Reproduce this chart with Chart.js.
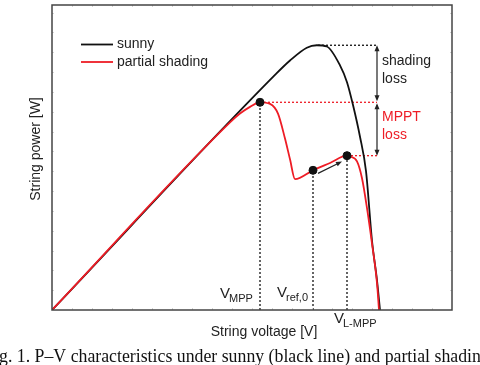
<!DOCTYPE html>
<html>
<head>
<meta charset="utf-8">
<script src="https://cdn.jsdelivr.net/npm/chart.js@4.4.1/dist/chart.umd.min.js"></script>
<style>
    html, body { margin: 0; padding: 0; background: #fff; }
    #wrap { width: 480px; height: 365px; overflow: hidden; }
</style>
</head>
<body>
<div id="wrap"><canvas id="pvChart" width="480" height="365"></canvas></div>
<script>
// P-V curves, string voltage (x) vs string power (y), both in 0..100 relative units
const sunnyV = [0, 56, 59.5, 63.7, 66.2, 68.7, 72, 73.75, 75.25, 77, 78.5, 80, 81.25, 82];
const sunnyP = [0, 77.4, 81.8, 86.0, 86.8, 86.4, 80.2, 74.7, 67.2, 56.8, 45.5, 22.7, 9.7, 0];

const shadeV = [0, 44.5, 47, 49.5, 52, 54.5, 56.5, 58.25, 59.5, 60.75, 65.25, 69.5, 73.75, 74.5, 76.25, 77.5, 78.75, 80, 81.25, 81.75];
const shadeP = [0, 61.5, 64.4, 66.6, 68.1, 67.6, 64.4, 56.2, 49.4, 42.9, 45.8, 48.2, 50.6, 50.3, 48.7, 43.2, 33.4, 21.8, 8.8, 0];

// operating points: global MPP, start reference, local MPP
const markerV = [52, 65.25, 73.75];
const markerP = [68.1, 45.8, 50.6];

// sunny peak and where the loss arrows stand
const peakV = 66.5;
const peakP = 86.8;
const lossV = 81.25;

// little arrow from V_ref,0 towards the local MPP
const stepV = [66.5, 72.5];
const stepP = [44.8, 48.7];

const SANS = "'Liberation Sans', Arial, sans-serif";
const RED = "#ee1c25";
const BLACK = "#111111";

const pts = (xs, ys) => xs.map((x, i) => ({ x: x, y: ys[i] }));

const guide = (a, b, color) => ({
    type: "line",
    data: [a, b],
    borderColor: color,
    borderWidth: 1.3,
    borderDash: [2, 2],
    pointRadius: 0,
    fill: false,
    order: 4,
});

const drawSub = (ctx, x, y, main, sub, color) => {
    ctx.fillStyle = color;
    ctx.textAlign = "left";
    ctx.textBaseline = "alphabetic";
    ctx.font = "15px " + SANS;
    ctx.fillText(main, x, y);
    const w = ctx.measureText(main).width;
    ctx.font = "11px " + SANS;
    ctx.fillText(sub, x + w - 1, y + 4);
};

const arrowHead = (ctx, x, y, dx, dy) => {
    const len = Math.hypot(dx, dy);
    const ux = dx / len, uy = dy / len;
    const l = 6, w = 2.5;
    ctx.beginPath();
    ctx.moveTo(x, y);
    ctx.lineTo(x - ux * l - uy * w, y - uy * l + ux * w);
    ctx.lineTo(x - ux * l + uy * w, y - uy * l - ux * w);
    ctx.closePath();
    ctx.fill();
};

const decor = {
    id: "decor",
    afterDraw(chart) {
        const ctx = chart.ctx;
        const xs = chart.scales.x;
        const ys = chart.scales.y;
        const area = chart.chartArea;
        ctx.save();

        // faint inner ticks on the frame
        ctx.strokeStyle = "#d4d4d4";
        ctx.lineWidth = 1;
        for (let v = 5; v < 100; v += 5) {
            const px = Math.round(xs.getPixelForValue(v)) + 0.5;
            ctx.beginPath();
            ctx.moveTo(px, area.top); ctx.lineTo(px, area.top + 2);
            ctx.moveTo(px, area.bottom); ctx.lineTo(px, area.bottom - 2);
            ctx.stroke();
        }
        for (let v = 6.5; v < 100; v += 6.5) {
            const py = Math.round(ys.getPixelForValue(v)) + 0.5;
            ctx.beginPath();
            ctx.moveTo(area.left, py); ctx.lineTo(area.left + 2, py);
            ctx.moveTo(area.right, py); ctx.lineTo(area.right - 2, py);
            ctx.stroke();
        }

        // frame
        ctx.strokeStyle = "#444";
        ctx.lineWidth = 1.5;
        ctx.strokeRect(area.left, area.top, area.right - area.left, area.bottom - area.top);

        // loss arrows
        const ax = xs.getPixelForValue(lossV);
        const yTop = ys.getPixelForValue(peakP);
        const yMid = ys.getPixelForValue(markerP[0]);
        const yLow = ys.getPixelForValue(markerP[2]);
        ctx.strokeStyle = "#222";
        ctx.fillStyle = "#222";
        ctx.lineWidth = 1.2;
        ctx.beginPath();
        ctx.moveTo(ax, yTop + 3); ctx.lineTo(ax, yMid - 3);
        ctx.moveTo(ax, yMid + 3); ctx.lineTo(ax, yLow - 3);
        ctx.stroke();
        arrowHead(ctx, ax, yTop, 0, -1);
        arrowHead(ctx, ax, yMid - 1, 0, 1);
        arrowHead(ctx, ax, yMid + 1, 0, -1);
        arrowHead(ctx, ax, yLow, 0, 1);

        // step arrow
        const sx0 = xs.getPixelForValue(stepV[0]), sy0 = ys.getPixelForValue(stepP[0]);
        const sx1 = xs.getPixelForValue(stepV[1]), sy1 = ys.getPixelForValue(stepP[1]);
        ctx.beginPath();
        ctx.moveTo(sx0, sy0); ctx.lineTo(sx1 - 4, sy1 + 2);
        ctx.stroke();
        arrowHead(ctx, sx1, sy1, sx1 - sx0, sy1 - sy0);

        // loss labels
        ctx.font = "14px " + SANS;
        ctx.textAlign = "left";
        ctx.textBaseline = "middle";
        ctx.fillStyle = "#222";
        ctx.fillText("shading", ax + 5, 61);
        ctx.fillText("loss", ax + 5, 79);
        ctx.fillStyle = RED;
        ctx.fillText("MPPT", ax + 5, 117);
        ctx.fillText("loss", ax + 5, 135);

        // voltage labels
        const vm = xs.getPixelForValue(markerV[0]);
        const vr = xs.getPixelForValue(markerV[1]);
        const vl = xs.getPixelForValue(markerV[2]);
        drawSub(ctx, vm - 40, 298, "V", "MPP", "#222");
        drawSub(ctx, vr - 36, 297, "V", "ref,0", "#222");
        drawSub(ctx, vl - 13, 323, "V", "L-MPP", "#222");

        // legend
        ctx.lineWidth = 1.8;
        ctx.strokeStyle = BLACK;
        ctx.beginPath(); ctx.moveTo(81, 44.5); ctx.lineTo(113, 44.5); ctx.stroke();
        ctx.strokeStyle = RED;
        ctx.beginPath(); ctx.moveTo(81, 62); ctx.lineTo(113, 62); ctx.stroke();
        ctx.font = "14px " + SANS;
        ctx.fillStyle = "#222";
        ctx.textBaseline = "middle";
        ctx.fillText("sunny", 117, 44);
        ctx.fillText("partial shading", 117, 62);

        // axis titles
        ctx.textAlign = "center";
        ctx.textBaseline = "alphabetic";
        ctx.fillText("String voltage [V]", 264, 336);
        ctx.save();
        ctx.translate(40, 149);
        ctx.rotate(-Math.PI / 2);
        ctx.fillText("String power [W]", 0, 0);
        ctx.restore();

        // figure caption, cut by the page edges
        ctx.font = "17.8px 'Liberation Serif', 'Times New Roman', serif";
        ctx.textAlign = "left";
        ctx.fillStyle = "#111";
        const lead = ctx.measureText("Fi").width;
        ctx.fillText("Fig. 1. P\u2013V characteristics under sunny (black line) and partial shading (red line)", -lead - 1, 362);

        ctx.restore();
    },
};

document.addEventListener("DOMContentLoaded", () => {
    const canvas = document.getElementById("pvChart");

    new Chart(canvas, {
        type: "line",
        data: {
            datasets: [
                guide({ x: markerV[0], y: 0 }, { x: markerV[0], y: markerP[0] }, BLACK),
                guide({ x: markerV[1], y: 0 }, { x: markerV[1], y: markerP[1] }, BLACK),
                guide({ x: markerV[2], y: 0 }, { x: markerV[2], y: markerP[2] }, BLACK),
                guide({ x: peakV, y: peakP }, { x: lossV, y: peakP }, BLACK),
                guide({ x: markerV[0], y: markerP[0] }, { x: lossV, y: markerP[0] }, RED),
                guide({ x: markerV[2], y: markerP[2] }, { x: lossV, y: markerP[2] }, RED),
                {
                    label: "sunny",
                    data: pts(sunnyV, sunnyP),
                    borderColor: BLACK,
                    borderWidth: 1.8,
                    pointRadius: 0,
                    cubicInterpolationMode: "monotone",
                    fill: false,
                    order: 3,
                },
                {
                    label: "partial shading",
                    data: pts(shadeV, shadeP),
                    borderColor: RED,
                    borderWidth: 1.8,
                    pointRadius: 0,
                    cubicInterpolationMode: "monotone",
                    fill: false,
                    order: 2,
                },
                {
                    type: "scatter",
                    label: "points",
                    data: pts(markerV, markerP),
                    backgroundColor: BLACK,
                    borderColor: BLACK,
                    pointRadius: 4,
                    order: 1,
                },
            ],
        },
        options: {
            responsive: false,
            animation: false,
            layout: { padding: { left: 52, right: 28, top: 2, bottom: 55 } },
            scales: {
                x: { type: "linear", min: 0, max: 100, display: false },
                y: { type: "linear", min: 0, max: 100, display: false },
            },
            plugins: {
                legend: { display: false },
                tooltip: { enabled: false },
            },
        },
        plugins: [decor],
    });
});
</script>
</body>
</html>
